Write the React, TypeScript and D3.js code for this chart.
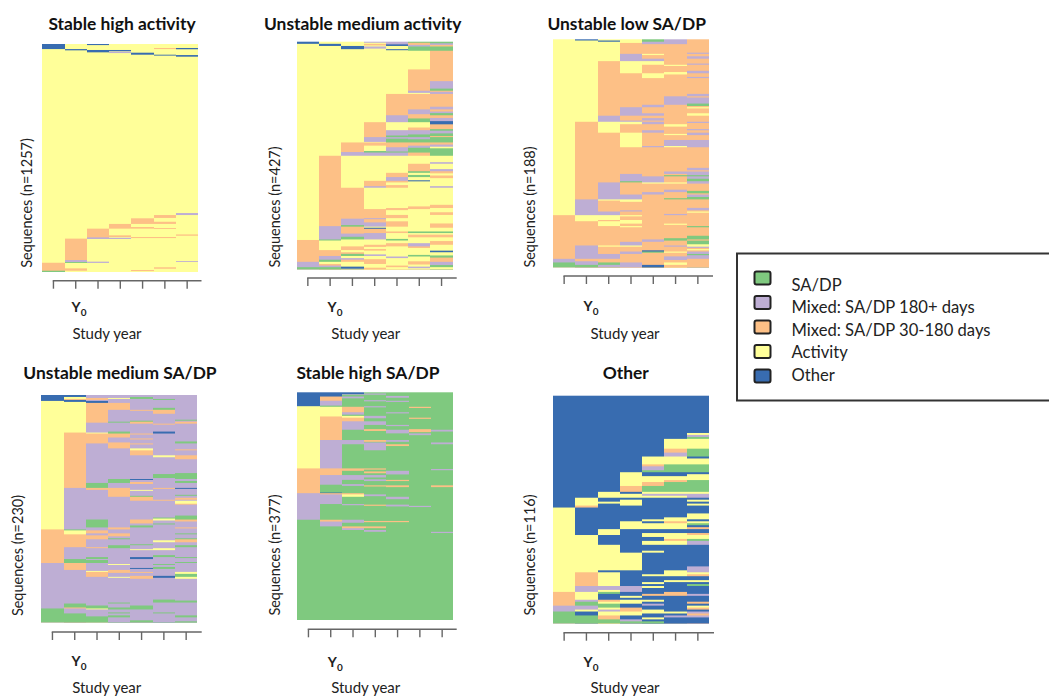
import React, { useRef, useEffect } from 'react';
import * as d3 from 'd3';

// Each column is one study year, read top to bottom: state letter + row where that run ends
// G SA/DP, P mixed 180+, M mixed 30-180, A activity, O other
const stableHighActivity = [
  'O28 A1206 M1250 G1257',
  'A28 O35 A1073 M1191 P1202 G1207 A1237 M1250 A1257',
  'O6 A33 O46 A1018 M1066 P1075 A1200 P1207 A1257',
  'A33 O40 A42 P50 A992 M1018 A1055 M1064 A1068 P1075 A1257',
  'A48 O59 A961 M992 A1009 M1018 A1064 M1070 A1246 M1252 A1257',
  'A22 M28 A59 O64 A943 M959 A980 M992 A1015 M1020 A1064 M1070 A1231 M1239 A1257',
  'A22 O29 A61 O70 A932 P943 A1050 M1057 A1197 P1202 A1257',
];

const unstableMediumActivity = [
  'O4 A372 M413 P423 G427',
  'A4 O8 A214 M346 P371 G373 A391 M402 P409 G413 A417 M420 P423 G427',
  'A8 O14 A189 M207 P214 A274 M332 P344 G347 M360 P366 G371 A384 M391 A395 M398 G402 A406 P409 M413 A422 O426 A427',
  'P2 A4 M7 A9 P13 A151 M179 P188 A189 M195 A205 G208 P214 A261 M271 P274 A314 M331 P333 M339 P347 A349 O351 M359 P371 A381 M385 A389 M392 A399 P402 A408 M417 A424 M427',
  'P5 O8 A14 O16 A98 M138 P151 A166 P176 G179 P182 G189 M198 P206 G208 P214 A246 M254 P261 M264 A269 M274 A312 M316 A325 M331 A337 M347 A356 M359 A370 G373 A378 M384 A403 P406 A420 M423 A427',
  'G2 M6 P9 G17 A52 M92 P96 A98 M127 P136 M144 G151 A161 M166 P174 G179 P183 G189 M195 P199 G208 M214 A229 M243 G246 A250 G254 A260 O262 A309 M314 A356 G359 A362 M367 A378 P384 M387 A400 G403 A412 M418 A422 P425 A427',
  'G3 P6 M9 G17 M74 P88 G92 M94 P98 M122 P127 M131 P134 G138 M143 P149 O155 M164 G167 P172 G177 M179 G189 M193 P197 A200 G214 A226 P229 A239 P243 M247 A251 M256 A271 P274 A306 M312 A320 M325 A341 M349 A356 G359 A362 M367 A374 M381 A392 O395 A401 G405 M413 P419 G423 A427',
];

const unstableLowSadp = [
  'A145 M181 P184 G188',
  'O1 A68 M132 P145 A150 M170 P181 M183 P186 G188',
  'A1 O2 A18 M63 P68 A77 M118 P132 A133 M142 P145 A149 M150 A154 M170 A171 M177 P181 M184 G186 P188',
  'A3 M12 P18 A28 M56 P63 M67 P68 A70 M77 A89 M111 P117 G118 M128 P132 A134 M141 P142 M145 A146 M149 A152 M154 A155 M167 P170 A171 M175 P177 M184 P188',
  'G2 P4 M12 A13 M16 P18 A21 M28 A32 M54 P56 M61 P63 M65 P67 M68 P70 M75 P77 M88 P89 M113 P118 A119 M126 P128 M165 P167 M174 O175 G176 M186 O188',
  'P4 M21 A22 M27 A29 M47 P54 M70 A72 M78 A79 M83 P88 A89 M109 P111 M112 G113 M118 A119 M124 P126 M131 G132 M144 P145 M152 A153 M164 G166 M170 P171 M175 A176 M179 P182 M184 A186 M188',
  'M11 P12 M14 P16 M20 P21 M26 P28 M31 P32 M45 P47 M48 P53 G55 M56 A57 M61 A63 M68 P69 M74 P75 M77 P79 M83 P89 M106 P108 M109 P112 G113 P115 G117 P119 M125 G127 M128 P130 G132 M139 P141 M142 A143 M154 G155 M162 G165 M166 G169 A171 P172 M173 A174 M175 P177 G178 P181 M188',
];

const unstableMediumSadp = [
  'O6 A136 M170 P216 G230',
  'O2 A4 M5 O7 A38 M94 P136 G137 A141 M154 P166 G170 M177 P211 G215 M216 P221 G230',
  'P3 M5 P6 O8 M28 P38 A39 M49 P89 G94 M96 P126 G134 P137 M140 P142 M146 P154 M155 P164 G166 P167 G170 P178 A179 M184 P213 G216 A217 P224 G230',
  'P3 A4 P8 M15 P27 G28 P37 G39 M43 P48 M54 P85 G89 P94 M103 P134 M136 P140 M143 P145 G146 P152 G155 P171 A172 P177 M180 P184 A185 P210 G211 P215 G217 P220 G221 P223 G225 P230',
  'P2 G4 P15 M16 P26 G27 M29 P39 M40 P44 M45 P49 M50 P54 A56 M61 P85 O86 P88 M90 P96 A97 P102 G103 M107 P126 M130 P132 G134 P151 G152 P156 A157 P164 O166 P175 O176 P179 M180 P183 M186 P213 G217 P228 G230',
  'P4 G5 P13 G15 M19 P29 M30 P37 O39 P61 A63 P80 G84 P94 M95 P106 M107 P124 G125 A127 P130 G131 P147 A149 P155 A157 P162 G164 P171 G172 P174 G176 P183 O185 P207 G210 P220 G221 P230',
  'P25 G26 P27 M29 P47 G49 P55 M56 P61 M65 P79 G85 P87 G89 P94 O95 P101 G102 P104 M106 P107 A110 M111 P122 G126 M128 P134 M135 P140 G141 P145 G146 M149 P152 G154 P164 G165 P169 G170 P179 A181 G184 A186 P208 G210 P223 G225 P229 G230',
];

const stableHighSadp = [
  'O23 A126 M167 P211 G377',
  'O7 M14 P22 G24 A40 M79 P126 M137 P153 G166 O167 M169 P185 G211 M214 P222 G377',
  'O3 P4 G7 P10 G24 M33 P37 G39 A42 M48 P62 G79 P86 G126 M130 G137 P145 G152 P155 G167 M169 A173 G185 P187 G211 P216 G222 M225 P228 G377',
  'G2 P4 G13 P15 G23 P25 G39 P43 G48 P54 G61 M64 G79 M82 G83 P96 G126 M128 G131 M134 G137 P141 G144 P147 G154 M156 G169 P172 G186 M188 G213 M215 G222 M225 G228 P231 G377',
  'G6 P9 G14 P16 G33 P35 G54 P56 G62 P68 G79 P82 G86 M89 G130 P136 G145 M147 G154 M157 G173 P177 G186 P189 G213 M215 G377',
  'G24 M26 G42 M44 G61 M66 G68 P71 G188 P190 G377',
  'G62 P65 G83 P86 G127 P129 G154 M157 G231 P233 G377',
];

const other = [
  'O57 A100 M107 P110 G116',
  'O52 A56 M57 O71 A90 M97 P100 A104 P105 G107 P109 A110 O112 G116',
  'O49 A52 O54 A55 O68 A71 O76 A89 O90 A97 P99 A100 G101 O104 M105 A106 G108 A109 P110 A112 M114 G116',
  'O39 A46 M49 O50 A52 O53 A56 O64 A68 O80 A89 O97 P100 O102 A103 O104 A106 O108 M110 A112 O114 P115 G116',
  'O31 A35 M36 P38 G39 O41 A44 M46 G49 A50 P51 A52 O63 A64 O65 A68 O70 A72 O74 A76 O79 A80 O91 A92 O95 A96 O97 A98 O101 M102 O104 A105 O106 P107 O109 A111 O113 A114 O115 G116',
  'O22 A27 M29 P31 A35 G39 O41 A43 M44 G49 A50 P51 A52 O62 A64 M65 A68 O70 A73 M74 A76 O89 A92 O94 A95 O100 M102 O110 A111 O112 P113 O116',
  'O19 A20 P21 G22 A27 G31 O32 A35 G39 O40 A43 G49 A50 P52 O53 A54 O55 A56 O60 A63 O64 A65 G66 O67 M68 O70 M71 A73 G74 P76 O87 P90 A91 M92 O94 A95 O96 G97 O101 P102 O105 M106 O107 A108 M109 O110 P111 M112 P113 O116',
];

const titles = ['Stable high activity', 'Unstable medium activity', 'Unstable low SA/DP', 'Unstable medium SA/DP', 'Stable high SA/DP', 'Other'];
const counts = [1257, 427, 188, 230, 377, 116];
const sequences = [stableHighActivity, unstableMediumActivity, unstableLowSadp, unstableMediumSadp, stableHighSadp, other];
const years = [0, 1, 2, 3, 4, 5, 6];

const stateCodes = ['G', 'P', 'M', 'A', 'O'];
const stateLabels = ['SA/DP', 'Mixed: SA/DP 180+ days', 'Mixed: SA/DP 30-180 days', 'Activity', 'Other'];
const stateColors = ['#7FC97F', '#BEAED4', '#FDC086', '#FFFF99', '#386CB0'];

const color = d3.scaleOrdinal<string, string>().domain(stateCodes).range(stateColors);

const FONT = 'Lato, sans-serif';

// plot box, axis line and text anchors of each panel
const layouts = [
  { l: 42.3, r: 198.3, t: 44, b: 272, axisY: 280.7, axisEnd: 201.5, y0X: 79, y0Y: 312, yearX: 107, yearY: 339, titleX: 122, titleY: 30, seqX: 32, seqY: 203 },
  { l: 296.7, r: 452.7, t: 41.7, b: 269.3, axisY: 278, axisEnd: 456.7, y0X: 335, y0Y: 312, yearX: 365.7, yearY: 339, titleX: 362.7, titleY: 30, seqX: 280, seqY: 207 },
  { l: 553, r: 709, t: 39.3, b: 267.3, axisY: 276, axisEnd: 713, y0X: 591, y0Y: 311, yearX: 625, yearY: 339, titleX: 626.7, titleY: 30, seqX: 535, seqY: 207 },
  { l: 41.3, r: 197.3, t: 395, b: 622.3, axisY: 632, axisEnd: 201.7, y0X: 79, y0Y: 666, yearX: 106.7, yearY: 693, titleX: 120, titleY: 379, seqX: 23, seqY: 555.5 },
  { l: 297.3, r: 453.3, t: 392.3, b: 620, axisY: 629.3, axisEnd: 456.7, y0X: 335.3, y0Y: 667, yearX: 365.7, yearY: 693, titleX: 368, titleY: 379, seqX: 280, seqY: 555 },
  { l: 553, r: 709, t: 395.7, b: 623.3, axisY: 632.7, axisEnd: 714, y0X: 591, y0Y: 667, yearX: 625, yearY: 693, titleX: 625.7, titleY: 379, seqX: 535, seqY: 555 },
];

const Panel = ({ index }: { index: number }) => {
  const axisRef = useRef<SVGGElement>(null);
  const box = layouts[index];
  const n = counts[index];

  const x = d3.scaleBand<number>().domain(years).range([box.l, box.r]);
  const y = d3.scaleLinear().domain([0, n]).range([box.t, box.b]);
  // column edges snapped to whole pixels, otherwise the stacked runs show through as seams
  const edge = (i: number) => Math.round(i < years.length ? x(years[i])! : box.r);

  useEffect(() => {
    const axis = d3.axisBottom(x).tickSize(8).tickFormat(() => '');
    const g = d3.select(axisRef.current);
    g.call(axis as any);
    g.select('.domain').remove();
    g.selectAll('line').attr('stroke', '#666').attr('stroke-width', 1.4);
    // R style axis line, starts at the first tick
    g.append('line')
      .attr('x1', x(0)! + x.bandwidth() / 2 - 0.7)
      .attr('x2', box.axisEnd)
      .attr('stroke', '#666')
      .attr('stroke-width', 1.4);
  }, []);

  return (
    <g>
      <g filter="url(#soft)">
        {sequences[index].map((column, i) => {
          let start = 0;
          return column.split(' ').map((run, j) => {
            const state = run[0];
            const end = +run.slice(1);
            const from = start;
            start = end;
            // each run paints down to the bottom so neighbours leave no hairline
            return (
              <rect
                key={`${i}-${j}`}
                x={edge(i)}
                y={y(from)}
                width={edge(i + 1) - edge(i)}
                height={y(n) - y(from)}
                fill={color(state)}
              />
            );
          });
        })}
      </g>
      <g ref={axisRef} transform={`translate(0,${box.axisY})`} />
      <text x={box.titleX} y={box.titleY} textAnchor="middle" fontFamily={FONT} fontWeight={700} fontSize={17.4} fill="#111">
        {titles[index]}
      </text>
      <text
        transform={`translate(${box.seqX},${box.seqY}) rotate(-90)`}
        textAnchor="middle"
        fontFamily={FONT}
        fontSize={14.5}
        fill="#222"
      >
        {`Sequences (n=${n})`}
      </text>
      <text x={box.y0X} y={box.y0Y} textAnchor="middle" fontFamily={FONT} fontWeight={700} fontSize={14} fill="#222">
        Y
        <tspan fontSize={10} dy={4}>0</tspan>
      </text>
      <text x={box.yearX} y={box.yearY} textAnchor="middle" fontFamily={FONT} fontSize={15} fill="#222">
        Study year
      </text>
    </g>
  );
};

const Legend = () => {
  const swatch = d3.scalePoint<string>().domain(stateCodes).range([278, 376]);
  const label = d3.scalePoint<string>().domain(stateCodes).range([285, 375]);
  return (
    <g>
      <rect x={737} y={253.5} width={330} height={147} fill="#fff" stroke="#333" strokeWidth={2} />
      {stateCodes.map((code, i) => (
        <g key={code}>
          <rect x={754.5} y={swatch(code)! - 6.5} width={16} height={13} rx={2} fill={stateColors[i]} stroke="#222" strokeWidth={2} />
          <text x={791.5} y={label(code)} dy="0.35em" fontFamily={FONT} fontSize={16.6} fill="#222">
            {stateLabels[i]}
          </text>
        </g>
      ))}
    </g>
  );
};

export default function App() {
  return (
    <svg width={1049} height={696} style={{ position: 'absolute', left: 0, top: 0 }}>
      <defs>
        <filter id="soft" x="-5%" y="-5%" width="110%" height="110%">
          <feGaussianBlur stdDeviation={0.45} />
        </filter>
      </defs>
      <rect width={1049} height={696} fill="#fff" />
      {titles.map((_, i) => (
        <Panel key={i} index={i} />
      ))}
      <Legend />
    </svg>
  );
}
